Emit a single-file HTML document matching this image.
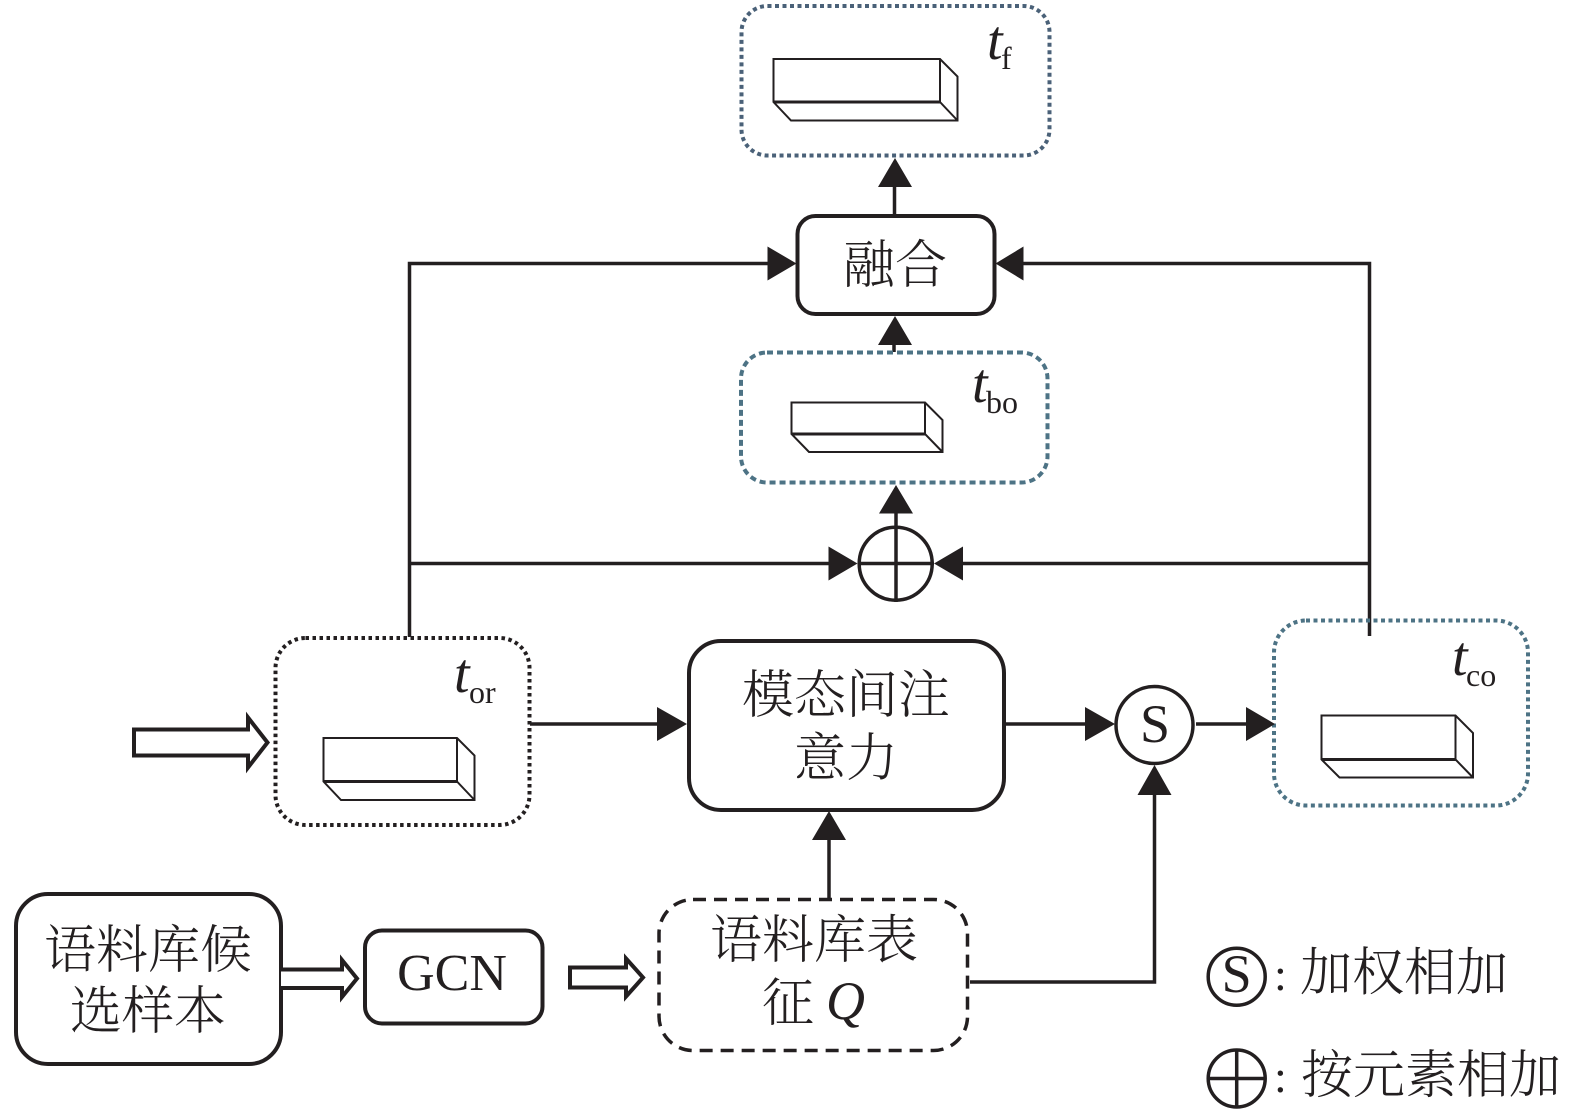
<!DOCTYPE html>
<html><head><meta charset="utf-8"><style>
html,body{margin:0;padding:0;background:#fff}
svg{display:block}
.c{font-family:"Liberation Serif","Noto Serif CJK SC",serif;font-size:52px;fill:#231f20;text-anchor:middle;font-weight:300}
.l{font-family:"Liberation Serif","Noto Serif CJK SC",serif;font-size:52px;fill:#231f20;font-weight:300}
.t{font-family:"Liberation Serif",serif;font-style:italic;font-size:56px;fill:#231f20}
.s{font-family:"Liberation Serif",serif;font-size:32px;fill:#231f20}
.ln{stroke:#231f20;stroke-width:3.5;fill:none}
.bx{stroke:#231f20;stroke-width:4;fill:#fff}
.cb{stroke:#231f20;stroke-width:2;fill:none}
.cbb{stroke:#231f20;stroke-width:3;fill:none}
.a{fill:#231f20}
</style></head><body>
<svg width="1575" height="1112" viewBox="0 0 1575 1112" xmlns="http://www.w3.org/2000/svg">
<rect width="1575" height="1112" fill="#fff"/>

<!-- connectors -->
<path class="ln" d="M409.5 637V263.5H768M409.5 563.5H829M1369.5 636V263.5H1023M1369.5 563.5H963"/>
<path class="ln" d="M894.5 187V216M894 345V352M896 513V602"/>
<path class="ln" d="M530 724H658M1005 724H1086M1196 724H1246"/>
<path class="ln" d="M829 840V900"/>
<path class="ln" d="M970 982H1154.5V795"/>

<!-- boxes -->
<rect x="741.5" y="6" width="308" height="149.5" rx="26" fill="none" stroke="#4a6178" stroke-width="4" stroke-dasharray="4 3.5"/>
<rect x="797.5" y="216" width="197" height="98" rx="18" class="bx"/>
<rect x="741" y="352.5" width="306.5" height="130" rx="26" fill="none" stroke="#4d7385" stroke-width="4" stroke-dasharray="6 4"/>
<rect x="275.5" y="638" width="254" height="187" rx="30" fill="none" stroke="#231f20" stroke-width="4" stroke-dasharray="3.5 3.5"/>
<rect x="689" y="641" width="315" height="169" rx="32" class="bx"/>
<rect x="1274" y="620.5" width="254" height="185" rx="32" fill="none" stroke="#4d7385" stroke-width="4" stroke-dasharray="4 3.5"/>
<rect x="16" y="894" width="265" height="170" rx="32" class="bx"/>
<rect x="365" y="930.5" width="177.5" height="93" rx="17" class="bx"/>
<rect x="659" y="899.5" width="308.5" height="151" rx="34" fill="none" stroke="#231f20" stroke-width="3.5" stroke-dasharray="13 8"/>

<!-- arrowheads -->
<path class="a" d="M895 158L878 187H912ZM796.5 263.5L767.5 246.5V280.5ZM995.5 263.5L1023.5 246.5V280.5ZM895 316L878 345H912ZM896 485L879 513.5H913ZM857.5 563.5L828.5 546.5V580.5ZM934 563.5L963 546.5V580.5ZM687 724L657 707V741ZM1115 724L1085 707V741ZM1275 724L1246 707V741ZM829 811L812 840H846ZM1154.5 765L1137.5 795H1171.5Z"/>

<!-- hollow arrows -->
<path d="M134 729.5H248V717.5L267.5 742.5L248 767.5V755.5H134Z" fill="#fff" stroke="#231f20" stroke-width="4" stroke-linejoin="miter"/>
<path d="M281 969.5H342V960L357 978.5L342 997V988H281" fill="#fff" stroke="#231f20" stroke-width="4"/>
<path d="M570 967.5H626V958.5L643 977.5L626 996.5V987.5H570Z" fill="#fff" stroke="#231f20" stroke-width="4"/>

<!-- cuboids -->
<g class="cb">
<path class="cb" d="M773.5 59H940L957.5 76.5V120.5H791L773.5 102ZM940 59V102L957.5 120.5"/><path class="cbb" d="M773.5 102H940"/>
<path class="cb" d="M791.5 402.5H925L942.5 420V452H809L791.5 434ZM925 402.5V434L942.5 452"/><path class="cbb" d="M791.5 434H925"/>
<path class="cb" d="M323.5 738H457L474.5 755.5V800H341L323.5 781.5ZM457 738V781.5L474.5 800"/><path class="cbb" d="M323.5 781.5H457"/>
<path class="cb" d="M1321.5 715.5H1455.5L1473 733V777.5H1339.5L1321.5 759.5ZM1455.5 715.5V759.5L1473 777.5"/><path class="cbb" d="M1321.5 759.5H1455.5"/>
</g>

<!-- circles -->
<path class="ln" d="M857.5 563.5H934"/>
<circle cx="895.7" cy="563.7" r="36.5" fill="none" stroke="#231f20" stroke-width="3.5"/>
<circle cx="1154.5" cy="725" r="38.5" fill="#fff" stroke="#231f20" stroke-width="3.5"/>
<text class="c" x="1155" y="742" style="font-size:54px">S</text>
<circle cx="1236.7" cy="976.7" r="28.5" fill="none" stroke="#231f20" stroke-width="3.5"/>
<text class="c" x="1236.7" y="992" style="font-size:54px">S</text>
<circle cx="1236.7" cy="1078.5" r="28.5" fill="none" stroke="#231f20" stroke-width="3.5"/>
<path class="ln" d="M1208 1078.5H1265M1236.7 1050V1107"/>

<!-- labels -->
<text class="c" x="895" y="283">融合</text>
<text class="c" x="846" y="713">模态间注</text>
<text class="c" x="846" y="776">意力</text>
<text class="c" x="148" y="968">语料库候</text>
<text class="c" x="148" y="1029">选样本</text>
<text class="c" x="452" y="990" style="font-size:52px">GCN</text>
<text class="c" x="814" y="958">语料库表</text>
<text class="l" x="762" y="1021">征</text>
<text class="t" x="826" y="1019" style="font-size:54px">Q</text>
<text class="l" x="1274" y="990" style="font-size:46px">:</text>
<text class="l" x="1300" y="990.5">加权相加</text>
<text class="l" x="1274" y="1092" style="font-size:46px">:</text>
<text class="l" x="1301" y="1093">按元素相加</text>

<text class="t" x="987" y="59">t</text><text class="s" x="1001" y="69">f</text>
<text class="t" x="972" y="402">t</text><text class="s" x="986" y="413">bo</text>
<text class="t" x="454" y="692">t</text><text class="s" x="469" y="703">or</text>
<text class="t" x="1452" y="675">t</text><text class="s" x="1466" y="686">co</text>
</svg>
</body></html>
